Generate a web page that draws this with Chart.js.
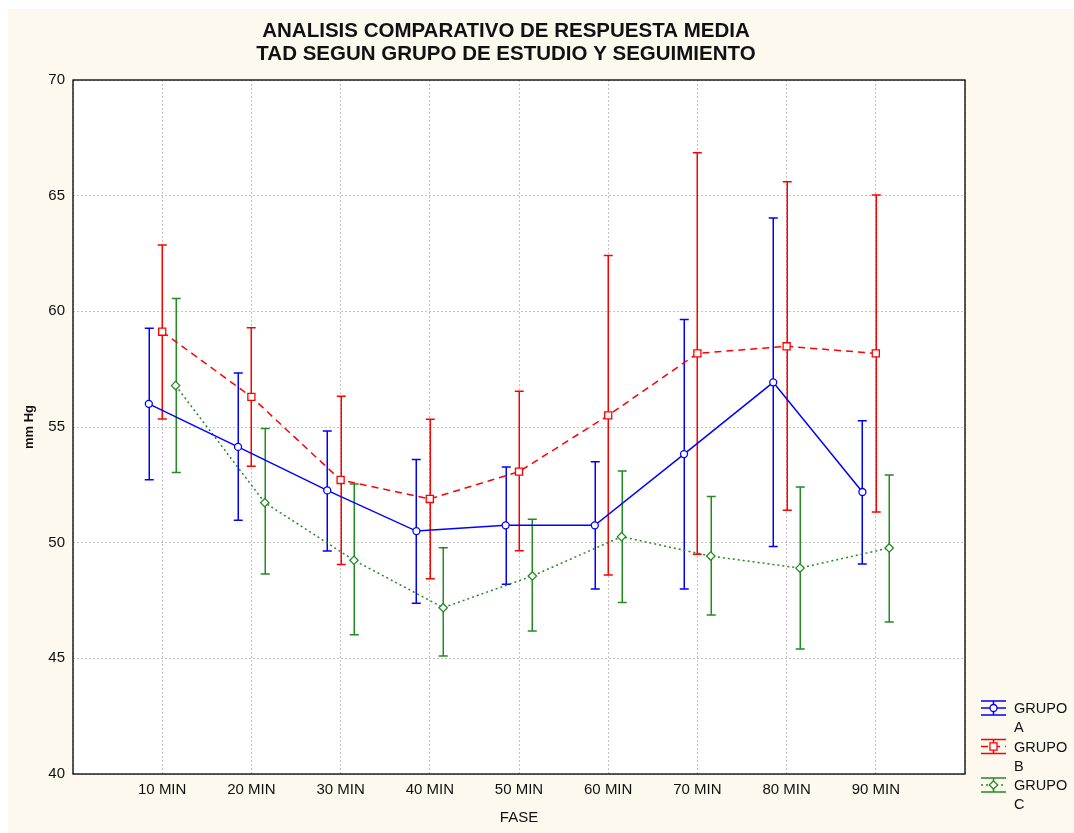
<!DOCTYPE html>
<html>
<head>
<meta charset="utf-8">
<title>TAD - respuesta media</title>
<script src="https://cdn.jsdelivr.net/npm/chart.js@4.4.1/dist/chart.umd.min.js"></script>
<style>
  html, body { margin: 0; padding: 0; background: #ffffff; }
  #wrap { width: 1074px; height: 833px; position: relative; }
</style>
</head>
<body>
<div id="wrap"><canvas id="chart" width="1074" height="833"></canvas></div>
<script>
// Phases of follow-up (category axis)
const phases = ['10 MIN', '20 MIN', '30 MIN', '40 MIN', '50 MIN', '60 MIN', '70 MIN', '80 MIN', '90 MIN'];
const groupNames = ['GRUPO A', 'GRUPO B', 'GRUPO C'];

// GRUPO A: mean TAD and interval bounds (mm Hg)
const meanA = [56.00, 54.14, 52.26, 50.50, 50.75, 50.75, 53.83, 56.93, 52.19];
const lowA  = [52.72, 50.97, 49.64, 47.38, 48.20, 48.00, 48.00, 49.83, 49.08];
const highA = [59.27, 57.33, 54.83, 53.59, 53.27, 53.50, 59.65, 64.03, 55.27];

// GRUPO B
const meanB = [59.12, 56.30, 52.71, 51.89, 53.07, 55.50, 58.18, 58.49, 58.18];
const lowB  = [55.35, 53.30, 49.06, 48.44, 49.65, 48.60, 49.50, 51.40, 51.33];
const highB = [62.87, 59.29, 56.33, 55.33, 56.55, 62.41, 66.86, 65.60, 65.03];

// GRUPO C
const meanC = [56.79, 51.73, 49.24, 47.19, 48.56, 50.26, 49.42, 48.90, 49.77];
const lowC  = [53.03, 48.65, 46.02, 45.10, 46.18, 47.41, 46.87, 45.40, 46.57];
const highC = [60.56, 54.94, 52.54, 49.78, 51.01, 53.10, 52.00, 52.41, 52.93];

// Y axis range
const yMin = 40, yMax = 70, yStep = 5;

// Horizontal shift of each group around its phase so the bars do not overlap
const groupShift = [-0.15, 0, 0.15];

const series = [
  { name: groupNames[0], mean: meanA, low: lowA, high: highA, color: '#0000ff', dash: [], point: 'circle', radius: 3.5 },
  { name: groupNames[1], mean: meanB, low: lowB, high: highB, color: '#ff0000', dash: [7, 5], point: 'rect', radius: 5 },
  { name: groupNames[2], mean: meanC, low: lowC, high: highC, color: '#228b22', dash: [2, 3], point: 'rectRot', radius: 4.2 }
];

const FONT = '"Liberation Sans", Arial, sans-serif';

const datasets = series.map((s, gi) => ({
  label: s.name,
  data: s.mean.map((v, i) => ({ x: i + 1 + groupShift[gi], y: v })),
  low: s.low,
  high: s.high,
  borderColor: s.color,
  backgroundColor: '#ffffff',
  borderWidth: 1.5,
  borderDash: s.dash,
  pointStyle: s.point,
  pointRadius: s.radius,
  pointBorderWidth: 1.3,
  pointBorderColor: s.color,
  pointBackgroundColor: '#ffffff',
  tension: 0,
  fill: false
}));

// Background, error bars, frame, title and legend
const decor = {
  id: 'decor',
  beforeDraw(chart) {
    const ctx = chart.ctx, a = chart.chartArea;
    ctx.save();
    ctx.fillStyle = '#ffffff';
    ctx.fillRect(0, 0, chart.width, chart.height);
    ctx.fillStyle = '#fdf9ee';
    ctx.fillRect(8, 9, chart.width - 8, chart.height - 9);
    ctx.fillStyle = '#ffffff';
    ctx.fillRect(a.left, a.top, a.right - a.left, a.bottom - a.top);
    ctx.restore();
  },
  beforeDatasetsDraw(chart) {
    const ctx = chart.ctx, xs = chart.scales.x, ys = chart.scales.y;
    ctx.save();
    ctx.lineWidth = 1.5;
    ctx.setLineDash([]);
    chart.data.datasets.forEach((ds) => {
      ctx.strokeStyle = ds.borderColor;
      ds.data.forEach((p, i) => {
        const x = Math.round(xs.getPixelForValue(p.x)) + 0.25;
        const yl = ys.getPixelForValue(ds.low[i]);
        const yh = ys.getPixelForValue(ds.high[i]);
        ctx.beginPath();
        ctx.moveTo(x, yl); ctx.lineTo(x, yh);
        ctx.moveTo(x - 4.5, yl); ctx.lineTo(x + 4.5, yl);
        ctx.moveTo(x - 4.5, yh); ctx.lineTo(x + 4.5, yh);
        ctx.stroke();
      });
    });
    ctx.restore();
  },
  afterDraw(chart) {
    const ctx = chart.ctx, a = chart.chartArea;
    ctx.save();
    // plot frame
    ctx.strokeStyle = '#000000';
    ctx.lineWidth = 1.3;
    ctx.setLineDash([]);
    ctx.strokeRect(Math.round(a.left), Math.round(a.top), Math.round(a.right - a.left), Math.round(a.bottom - a.top));

    // title
    ctx.fillStyle = '#111111';
    ctx.font = 'bold 20.5px ' + FONT;
    ctx.textAlign = 'center';
    ctx.textBaseline = 'middle';
    ctx.fillText('ANALISIS COMPARATIVO DE RESPUESTA MEDIA', 506, 31);
    ctx.fillText('TAD SEGUN GRUPO DE ESTUDIO Y SEGUIMIENTO', 506, 54);

    // legend
    const lx0 = 981, lx1 = 1006, tx = 1014;
    const rows = [708, 746.5, 785];
    ctx.font = '14.5px ' + FONT;
    ctx.textAlign = 'left';
    chart.data.datasets.forEach((ds, i) => {
      const cy = rows[i], cx = (lx0 + lx1) / 2;
      ctx.strokeStyle = ds.borderColor;
      ctx.lineWidth = 1.5;
      ctx.setLineDash([]);
      ctx.beginPath();
      ctx.moveTo(lx0, cy - 7); ctx.lineTo(lx1, cy - 7);
      ctx.moveTo(lx0, cy + 7); ctx.lineTo(lx1, cy + 7);
      ctx.moveTo(cx, cy - 7); ctx.lineTo(cx, cy + 7);
      ctx.stroke();
      ctx.setLineDash(ds.borderDash);
      ctx.beginPath();
      ctx.moveTo(lx0, cy); ctx.lineTo(lx1, cy);
      ctx.stroke();
      ctx.setLineDash([]);
      ctx.fillStyle = '#ffffff';
      ctx.lineWidth = 1.3;
      Chart.helpers.drawPoint(ctx, { pointStyle: ds.pointStyle, radius: ds.pointRadius, borderWidth: 1.3, rotation: 0 }, cx, cy);
      ctx.fillStyle = '#111111';
      const parts = ds.label.split(' ');
      ctx.fillText(parts[0], tx, cy + 1);
      ctx.fillText(parts[1], tx, cy + 20);
    });
    ctx.restore();
  }
};

new Chart(document.getElementById('chart'), {
  type: 'line',
  data: { datasets },
  options: {
    responsive: false,
    animation: false,
    layout: { padding: { top: 80, right: 109, bottom: 0, left: 0 } },
    plugins: {
      legend: { display: false },
      tooltip: { enabled: false },
      title: { display: false }
    },
    scales: {
      x: {
        type: 'linear',
        min: 0,
        max: 10,
        afterFit(scale) { scale.height = 59; },
        ticks: {
          stepSize: 1,
          autoSkip: false,
          maxRotation: 0,
          padding: 7,
          color: '#111111',
          font: { family: FONT, size: 15 },
          callback: (v) => (v >= 1 && v <= phases.length ? phases[v - 1] : '')
        },
        grid: { color: '#c4c4c4', lineWidth: 1, drawTicks: false },
        border: { display: false, dash: [2, 2] },
        title: {
          display: true,
          text: 'FASE',
          color: '#111111',
          font: { family: FONT, size: 15 },
          padding: { top: 0, bottom: 6 }
        }
      },
      y: {
        type: 'linear',
        min: yMin,
        max: yMax,
        afterFit(scale) { scale.width = 73; },
        ticks: {
          stepSize: yStep,
          padding: 8,
          color: '#111111',
          font: { family: FONT, size: 15 }
        },
        grid: { color: '#c4c4c4', lineWidth: 1, drawTicks: false },
        border: { display: false, dash: [2, 2] },
        title: {
          display: true,
          text: 'mm Hg',
          color: '#111111',
          font: { family: FONT, size: 13, weight: 'bold' },
          padding: { top: 22, bottom: 0 }
        }
      }
    }
  },
  plugins: [decor]
});
</script>
</body>
</html>
